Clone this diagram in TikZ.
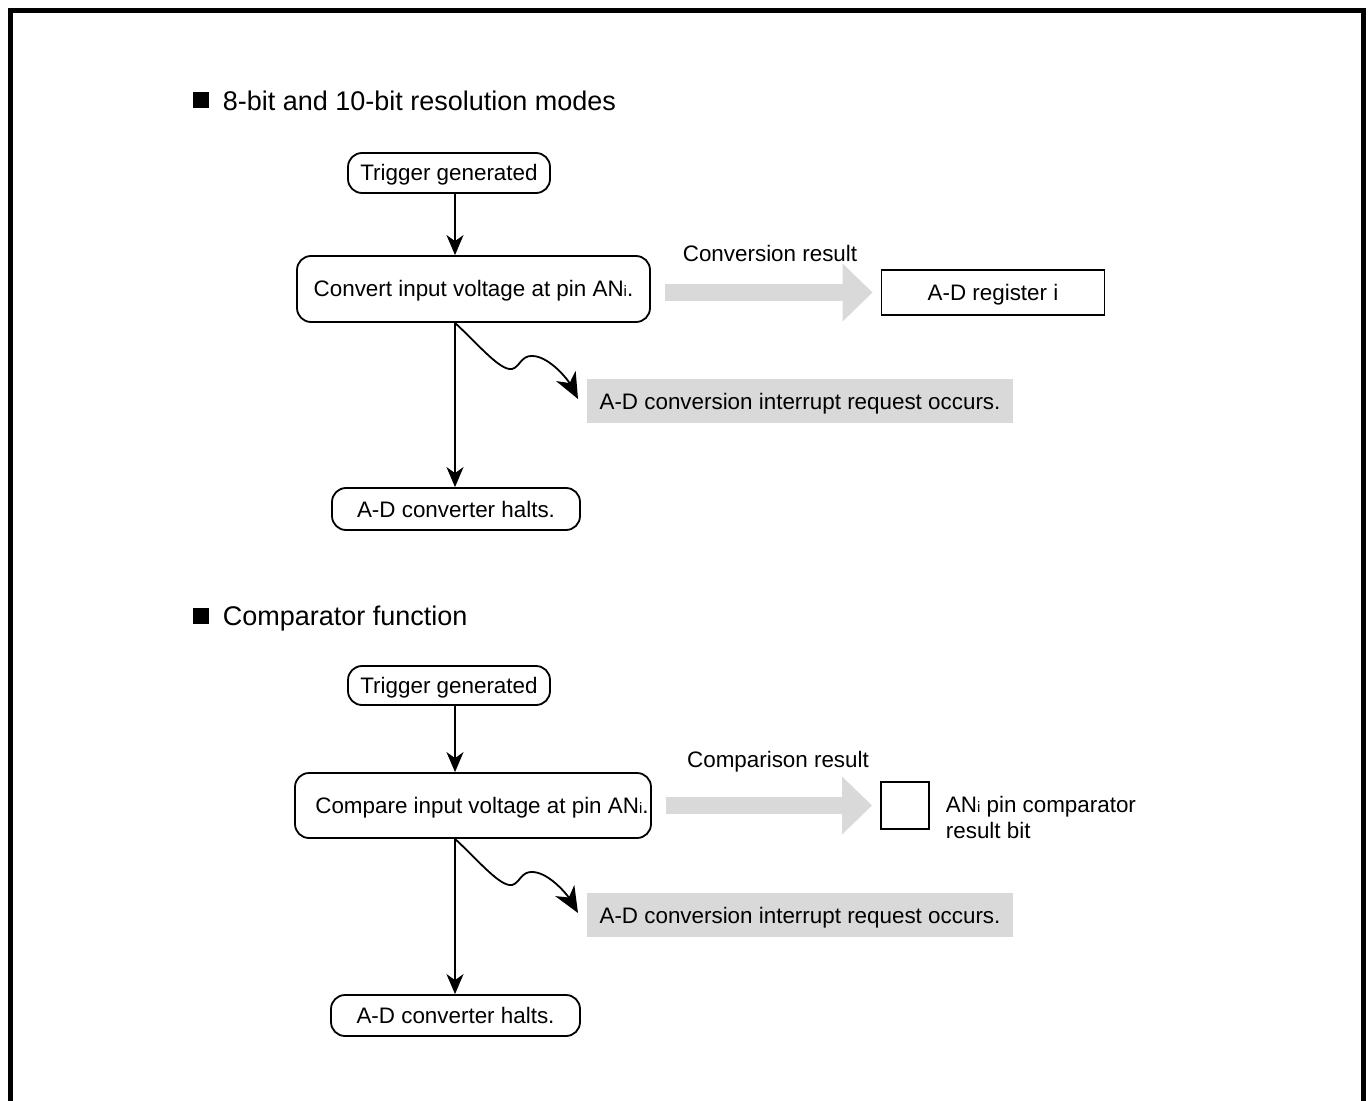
\documentclass[tikz,border=0pt]{standalone}
\usepackage{fontspec}
\setmainfont{Liberation Sans}
\usetikzlibrary{arrows.meta, positioning, calc}
\definecolor{ShadeGray}{RGB}{217,217,217}
\newcommand{\pinsub}[1]{{\fontsize{7.5pt}{8pt}\selectfont #1}}

\tikzset{
  flowbox/.style={draw, rounded corners=7pt, inner sep=0pt, text height=8pt, text depth=0pt,
    font=\fontsize{11.2pt}{13pt}\selectfont},
  regbox/.style={draw, inner sep=0pt, text height=8pt, text depth=0pt,
    font=\fontsize{11.2pt}{13pt}\selectfont},
  irqbox/.style={fill=ShadeGray, inner sep=0pt, minimum width=213pt, minimum height=22pt,
    text height=8pt, text depth=0pt, font=\fontsize{11.2pt}{13pt}\selectfont},
  plaintext/.style={inner sep=0pt, font=\fontsize{11.2pt}{13pt}\selectfont},
  headmark/.style={fill=black, minimum size=8pt, inner sep=0pt},
  headtext/.style={inner sep=0pt, anchor=west, text height=9.7pt, text depth=0pt,
    font=\fontsize{13.5pt}{16pt}\selectfont},
  wave/.style={-{Stealth[length=13pt, width=11pt, inset=4pt]}},
  resultarrow/.style={ShadeGray, line width=8.5pt, -{Triangle[length=15pt, width=28pt]}}
}

\begin{document}
\begin{tikzpicture}[>={Stealth[length=10pt, width=8.5pt, inset=3pt]}, x=0.5pt, y=-0.5pt, line width=0.9pt]
  \useasboundingbox (0,0) rectangle (1370,1101);
  % Outer frame
  \draw[line width=2.5pt] (10.5,1101) -- (10.5,10.5) -- (1363.5,10.5) -- (1363.5,1101);

  % 8-bit and 10-bit resolution modes
  \node[headmark] (mark1) at (201,100.5) {};
  \node[headtext, right=6pt of mark1] (head1) {8-bit and 10-bit resolution modes};

  \node[flowbox, minimum width=101pt, minimum height=20pt] (trig1) at (449,173) {Trigger generated};
  \node[flowbox, minimum width=176.5pt, minimum height=33pt] (conv) at (473.5,289) {Convert input voltage at pin AN\pinsub{i}.};
  \node[flowbox, minimum width=124pt, minimum height=21pt] (halt1) at (456,509) {A-D converter halts.};
  \node[irqbox] (irq1) at (800,401) {A-D conversion interrupt request occurs.};
  \node[regbox, minimum width=111.5pt, minimum height=22.5pt] (adreg) at (993,292.5) {A-D register i};
  \node[plaintext] (convres) at (770,253) {Conversion result};

  \coordinate (spine) at (455,0);
  \coordinate (irqtip1) at (578,399);
  \draw[->] (trig1.south -| spine) -- (conv.north -| spine);
  \draw[->] (conv.south -| spine) -- (halt1.north -| spine);
  \draw[wave] (conv.south -| spine) .. controls (478,344) and (500,371) .. (512,369)
    .. controls (520,367) and (521,355) .. (533,356)
    .. controls (550,357) and (568,380) .. (irqtip1);
  \draw[resultarrow] ($(conv.east |- adreg.west)+(14,0)$) -- ($(adreg.west)+(-8,0)$);

  % Comparator function
  \node[headmark] (mark2) at (201,615.5) {};
  \node[headtext, right=6pt of mark2] (head2) {Comparator function};

  \node[flowbox, minimum width=101pt, minimum height=19.5pt] (trig2) at (449,685.5) {Trigger generated};
  \node[flowbox, minimum width=178pt, minimum height=32.5pt] (cmp) at (473,805.5) {\hspace{9pt}Compare input voltage at pin AN\pinsub{i}.};
  \node[flowbox, minimum width=124.5pt, minimum height=20.5pt] (halt2) at (455.5,1015.5) {A-D converter halts.};
  \node[irqbox] (irq2) at (800,915) {A-D conversion interrupt request occurs.};
  \node[regbox, minimum width=24pt, minimum height=23.5pt] (bitbox) at (905,805.5) {};
  \node[plaintext, align=left, anchor=north west] (bitnote) at (945,795) {AN\pinsub{i} pin comparator\\result bit};
  \node[plaintext] (cmpres) at (778,762) {Comparison result};

  \coordinate (irqtip2) at (578,913);
  \draw[->] (trig2.south -| spine) -- (cmp.north -| spine);
  \draw[->] (cmp.south -| spine) -- (halt2.north -| spine);
  \draw[wave] (cmp.south -| spine) .. controls (478,860) and (500,887) .. (512,885)
    .. controls (520,883) and (521,871) .. (533,872)
    .. controls (550,873) and (568,896) .. (irqtip2);
  \draw[resultarrow] ($(cmp.east |- bitbox.west)+(14,0)$) -- ($(bitbox.west)+(-8,0)$);
\end{tikzpicture}
\end{document}
